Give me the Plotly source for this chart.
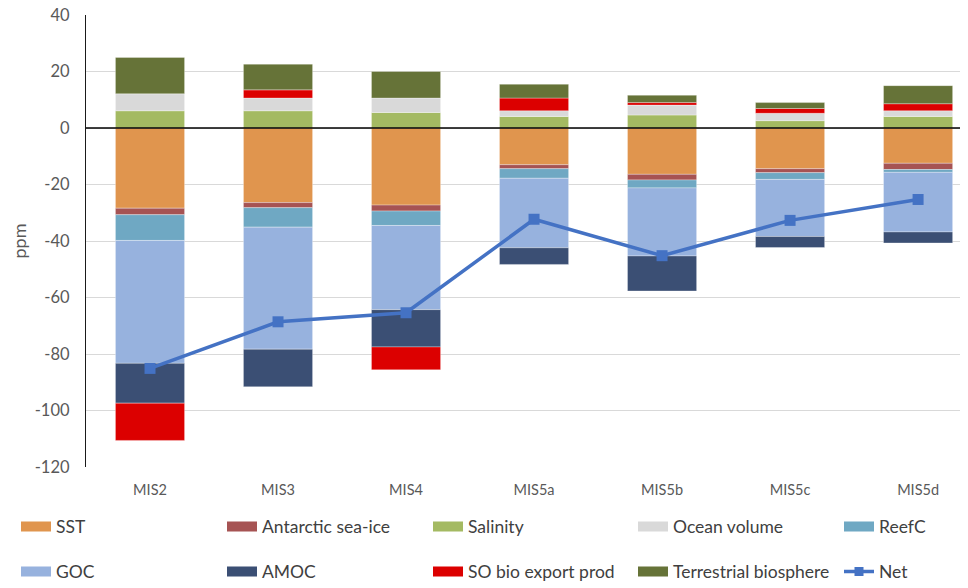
import plotly.graph_objects as go

categories = ["MIS2", "MIS3", "MIS4", "MIS5a", "MIS5b", "MIS5c", "MIS5d"]

sst = [-28.4, -26.4, -27.3, -13.0, -16.4, -14.4, -12.5]
sea_ice = [-2.3, -1.8, -2.1, -1.4, -2.0, -1.4, -2.2]
salinity = [6.1, 6.1, 5.5, 4.1, 4.6, 2.6, 4.1]
ocean_volume = [6.0, 4.5, 5.1, 2.0, 3.5, 2.6, 2.0]
reefc = [-9.1, -6.9, -5.1, -3.4, -2.8, -2.4, -1.0]
goc = [-43.5, -43.2, -29.8, -24.6, -24.1, -20.2, -21.1]
amoc = [-14.1, -13.3, -13.2, -5.9, -12.4, -3.9, -3.9]
so_bio = [-13.2, 2.9, -8.1, 4.5, 0.9, 1.7, 2.5]
terrestrial = [12.9, 9.1, 9.4, 4.9, 2.6, 2.1, 6.4]
net = [-85.1, -68.6, -65.4, -32.3, -45.2, -32.7, -25.3]

y_ticks = [-120, -100, -80, -60, -40, -20, 0, 20, 40]
y_tick_labels = ["-120", "-100", "-80", "-60", "-40", "-20", "0", "20", "40"]

series = [
    ("SST", sst, "#E0954E"),
    ("Antarctic sea-ice", sea_ice, "#A65353"),
    ("Salinity", salinity, "#A4BA62"),
    ("Ocean volume", ocean_volume, "#D9D9D9"),
    ("ReefC", reefc, "#6FA8C3"),
    ("GOC", goc, "#97B2DE"),
    ("AMOC", amoc, "#3B4F74"),
    ("SO bio export prod", so_bio, "#DC0000"),
    ("Terrestrial biosphere", terrestrial, "#667338"),
]

FONT = "Lato, 'Open Sans', sans-serif"
OFF = 8  # page body margin
W, H = 968 - OFF, 588 - OFF
ML, MR, MT, MB = 86 - OFF, 0, 15 - OFF, 121
PW, PH = W - ML - MR, H - MT - MB

# legend placement (window pixels): (x of item start, y center)
col_x = [16, 222, 428, 633, 839]
row_y = [526.5, 571.5]
legend_slots = []
for r in range(2):
    for c in range(5):
        legend_slots.append((col_x[c] - OFF, row_y[r] - OFF))

fig = go.Figure()

for i, (name, vals, color) in enumerate(series):
    fig.add_trace(go.Bar(
        x=categories, y=vals, name=name,
        marker=dict(color=color, line=dict(width=0.7, color="rgba(255,255,255,0.45)")),
        showlegend=False,
    ))

fig.add_trace(go.Scatter(
    x=categories, y=net, name="Net", mode="lines+markers",
    line=dict(color="#4472C4", width=3.5),
    marker=dict(symbol="square", size=11, color="#4472C4"),
    showlegend=False,
))

# legend entries
for i, (name, vals, color) in enumerate(series):
    key = "legend" if i == 0 else f"legend{i+1}"
    fig.add_trace(go.Scatter(
        x=[categories[0]], y=[None], mode="lines", name=name,
        line=dict(color=color, width=11),
        legend=key, showlegend=True, hoverinfo="skip",
    ))
fig.add_trace(go.Scatter(
    x=[categories[0]], y=[None], mode="lines+markers", name="Net",
    line=dict(color="#4472C4", width=3.5),
    marker=dict(symbol="square", size=9, color="#4472C4"),
    legend="legend10", showlegend=True, hoverinfo="skip",
))

legend_layout = {}
for i, (lx, ly) in enumerate(legend_slots):
    key = "legend" if i == 0 else f"legend{i+1}"
    legend_layout[key] = dict(
        x=(lx - ML) / PW, y=1 - ly / H, xref="paper", yref="container",
        xanchor="left", yanchor="middle",
        bgcolor="rgba(0,0,0,0)", borderwidth=0,
        font=dict(family=FONT, size=17.5, color="#404040"),
    )

fig.update_layout(
    width=W, height=H,
    margin=dict(l=ML, r=MR, t=MT, b=MB),
    paper_bgcolor="white", plot_bgcolor="white",
    barmode="relative", bargap=0.46,
    font=dict(family=FONT, color="#595959"),
    **legend_layout,
)

fig.update_xaxes(
    type="category", categoryorder="array", categoryarray=categories,
    range=[-0.5, 6.39], showgrid=False, showline=False, zeroline=False,
    ticks="", tickfont=dict(family=FONT, size=14.5, color="#595959"),
    ticklabelstandoff=12, automargin=False,
)
fig.update_yaxes(
    range=[-120, 40], tickvals=y_ticks, ticktext=y_tick_labels,
    showgrid=True, gridcolor="#D9D9D9", gridwidth=1,
    showline=True, linecolor="#1A1A1A", linewidth=1.3, zeroline=False,
    ticks="", tickfont=dict(family=FONT, size=16.5, color="#595959"),
    ticklabelstandoff=12, automargin=False, ticklabeloverflow="allow",
    title=dict(text="ppm", font=dict(family=FONT, size=18, color="#595959"), standoff=10),
)

fig.add_shape(type="line", xref="paper", yref="y", x0=0, x1=1, y0=0, y1=0,
              line=dict(color="#000000", width=1.5), layer="above")

fig.write_html("out.html")
